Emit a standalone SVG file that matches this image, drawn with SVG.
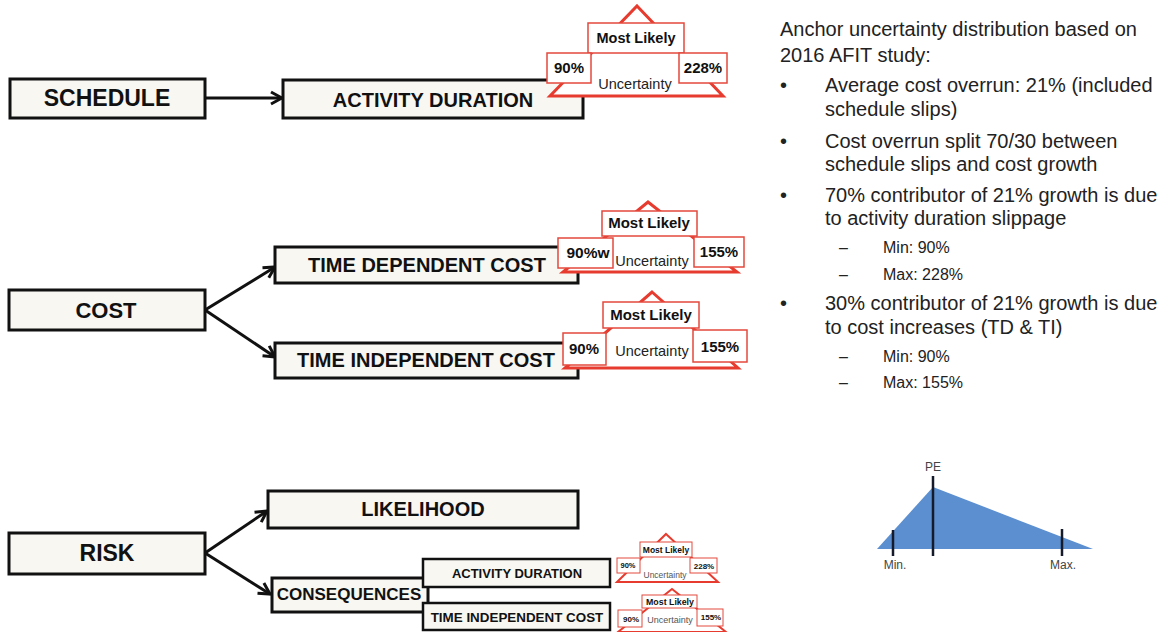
<svg xmlns="http://www.w3.org/2000/svg" width="1164" height="632" viewBox="0 0 1164 632">
<style>
.node{fill:#f8f7f2;stroke:#111;stroke-width:3}
.nt{font-family:"Liberation Sans",Arial,sans-serif;font-weight:bold;fill:#111;text-anchor:middle}
.tri{fill:#ffffff;stroke:#e63b2e;stroke-width:3;stroke-linejoin:miter}
.tri-s{fill:#ffffff;stroke:#e63b2e;stroke-width:2}
.bx{fill:#ffffff;stroke:#e4483c;stroke-width:1.5}
.bt{font-family:"Liberation Sans",Arial,sans-serif;font-weight:bold;fill:#111;text-anchor:middle}
.ut{font-family:"Liberation Sans",Arial,sans-serif;fill:#222;text-anchor:middle}
.conn{stroke:#111;stroke-width:3;fill:none}
.rt{font-family:"Liberation Sans",Arial,sans-serif;fill:#222;font-size:20px}
.st{font-family:"Liberation Sans",Arial,sans-serif;fill:#222;font-size:16px}
.dl{font-family:"Liberation Sans",Arial,sans-serif;fill:#444;font-size:12px;text-anchor:middle}
.tick{stroke:#161b2b;stroke-width:2.5}
</style>
<defs>
<marker id="arr" viewBox="-13 -8 15 16" refX="0" refY="0" markerWidth="15" markerHeight="16" markerUnits="userSpaceOnUse" orient="auto">
<path d="M-11,-6 L0,0 L-11,6" fill="none" stroke="#111" stroke-width="3"/>
</marker>
</defs>
<rect width="1164" height="632" fill="#ffffff"/>

<g id="connectors">
<line class="conn" x1="205" y1="98" x2="282" y2="98" marker-end="url(#arr)"/>
<line class="conn" x1="205" y1="310" x2="275" y2="267" marker-end="url(#arr)"/>
<line class="conn" x1="205" y1="310" x2="275" y2="357" marker-end="url(#arr)"/>
<line class="conn" x1="205" y1="553" x2="267" y2="511" marker-end="url(#arr)"/>
<line class="conn" x1="205" y1="553" x2="270" y2="594" marker-end="url(#arr)"/>
</g>

<g id="schedule">
<rect class="node" x="10" y="79" width="195" height="39"/>
<text class="nt" x="107" y="106" font-size="23">SCHEDULE</text>
</g>
<g id="activity-duration">
<rect class="node" x="283" y="80" width="300" height="38"/>
<text class="nt" x="433" y="107" font-size="20">ACTIVITY DURATION</text>
</g>
<g id="cost">
<rect class="node" x="9" y="290" width="196" height="40"/>
<text class="nt" x="106" y="318" font-size="22">COST</text>
</g>
<g id="time-dependent-cost">
<rect class="node" x="275" y="247" width="303" height="36"/>
<text class="nt" x="427" y="272" font-size="20">TIME DEPENDENT COST</text>
</g>
<g id="time-independent-cost">
<rect class="node" x="275" y="343" width="303" height="35"/>
<text class="nt" x="426" y="367" font-size="20">TIME INDEPENDENT COST</text>
</g>
<g id="risk">
<rect class="node" x="9" y="533" width="196" height="41"/>
<text class="nt" x="107" y="561" font-size="23">RISK</text>
</g>
<g id="likelihood">
<rect class="node" x="268" y="491" width="310" height="37"/>
<text class="nt" x="423" y="516" font-size="20">LIKELIHOOD</text>
</g>
<g id="consequences">
<rect class="node" x="272" y="578" width="156" height="34"/>
<text class="nt" x="349" y="600" font-size="17">CONSEQUENCES</text>
</g>
<g id="risk-activity-duration">
<rect class="node" x="423" y="559" width="187" height="28" style="stroke-width:2.5"/>
<text class="nt" x="517" y="578" font-size="13">ACTIVITY DURATION</text>
</g>
<g id="risk-time-independent-cost">
<rect class="node" x="423" y="603" width="187" height="27" style="stroke-width:2.5"/>
<text class="nt" x="517" y="622" font-size="13.4">TIME INDEPENDENT COST</text>
</g>

<g id="badge-activity-duration">
<polygon class="tri" points="637,6 723,96 550,96"/>
<rect class="bx" x="588" y="23" width="96" height="30"/>
<text class="bt" x="636" y="43" font-size="14.5">Most Likely</text>
<rect class="bx" x="547" y="53" width="44" height="30"/>
<text class="bt" x="569" y="73" font-size="15">90%</text>
<rect class="bx" x="679" y="53" width="48" height="30"/>
<text class="bt" x="703" y="73" font-size="15">228%</text>
<text class="ut" x="635" y="89" font-size="14.5">Uncertainty</text>
</g>
<g id="badge-td-cost">
<polygon class="tri" points="648,202 737,272 563,272"/>
<rect class="bx" x="602" y="211" width="95" height="25"/>
<text class="bt" x="649" y="228" font-size="15">Most Likely</text>
<rect class="bx" x="558" y="238" width="55" height="30"/>
<text class="bt" x="588" y="258" font-size="15.5">90%w</text>
<rect class="bx" x="694" y="237" width="50" height="30"/>
<text class="bt" x="719" y="257" font-size="15">155%</text>
<text class="ut" x="652" y="266" font-size="14.5">Uncertainty</text>
</g>
<g id="badge-ti-cost">
<polygon class="tri" points="652,292 738,368 565,368"/>
<rect class="bx" x="603" y="302" width="96" height="26"/>
<text class="bt" x="651" y="320" font-size="15">Most Likely</text>
<rect class="bx" x="563" y="333" width="43" height="32"/>
<text class="bt" x="584" y="354" font-size="15">90%</text>
<rect class="bx" x="693" y="330" width="54" height="32"/>
<text class="bt" x="720" y="352" font-size="15">155%</text>
<text class="ut" x="652" y="356" font-size="14.5">Uncertainty</text>
</g>
<g id="badge-risk-ad">
<polygon class="tri-s" points="666,534 718,582 617,582"/>
<rect class="bx" x="640" y="542" width="52" height="15" style="stroke-width:1"/>
<text class="bt" x="666" y="553" font-size="8.5">Most Likely</text>
<rect class="bx" x="617" y="558" width="23" height="15" style="stroke-width:1"/>
<text class="bt" x="628" y="568" font-size="7.5">90%</text>
<rect class="bx" x="690" y="558" width="27" height="15" style="stroke-width:1"/>
<text class="bt" x="704" y="569" font-size="8">228%</text>
<text class="ut" x="665" y="578" font-size="8.5" style="fill:#555">Uncertainty</text>
</g>
<g id="badge-risk-ti">
<polygon class="tri-s" points="672,589 726,632 618,632"/>
<rect class="bx" x="642" y="595" width="55" height="13" style="stroke-width:1"/>
<text class="bt" x="670" y="605" font-size="8.8">Most Likely</text>
<rect class="bx" x="618" y="610" width="24" height="17" style="stroke-width:1"/>
<text class="bt" x="631" y="622" font-size="8">90%</text>
<rect class="bx" x="697" y="609" width="26" height="17" style="stroke-width:1"/>
<text class="bt" x="711" y="620" font-size="8">155%</text>
<text class="ut" x="670" y="623" font-size="9" style="fill:#555">Uncertainty</text>
</g>

<g id="notes">
<text class="rt" x="780" y="36">Anchor uncertainty distribution based on</text>
<text class="rt" x="780" y="62">2016 AFIT study:</text>
<text class="rt" x="780" y="92">•</text>
<text class="rt" x="825" y="92">Average cost overrun: 21% (included</text>
<text class="rt" x="825" y="116">schedule slips)</text>
<text class="rt" x="780" y="148">•</text>
<text class="rt" x="825" y="148">Cost overrun split 70/30 between</text>
<text class="rt" x="825" y="171">schedule slips and cost growth</text>
<text class="rt" x="780" y="202">•</text>
<text class="rt" x="825" y="202">70% contributor of 21% growth is due</text>
<text class="rt" x="825" y="225">to activity duration slippage</text>
<text class="st" x="839" y="253">–</text>
<text class="st" x="883" y="253">Min: 90%</text>
<text class="st" x="839" y="280">–</text>
<text class="st" x="883" y="280">Max: 228%</text>
<text class="rt" x="780" y="310">•</text>
<text class="rt" x="825" y="310">30% contributor of 21% growth is due</text>
<text class="rt" x="825" y="334">to cost increases (TD &amp; TI)</text>
<text class="st" x="839" y="362">–</text>
<text class="st" x="883" y="362">Min: 90%</text>
<text class="st" x="839" y="388">–</text>
<text class="st" x="883" y="388">Max: 155%</text>
</g>

<g id="distribution">
<polygon points="877,549 933,487 1093,549" fill="#5b8fd0"/>
<line class="tick" x1="933" y1="476" x2="933" y2="556"/>
<line class="tick" x1="893" y1="530" x2="893" y2="556"/>
<line class="tick" x1="1062" y1="529" x2="1062" y2="556"/>
<text class="dl" x="933" y="471" font-size="11">PE</text>
<text class="dl" x="895" y="569">Min.</text>
<text class="dl" x="1063" y="569">Max.</text>
</g>
</svg>
